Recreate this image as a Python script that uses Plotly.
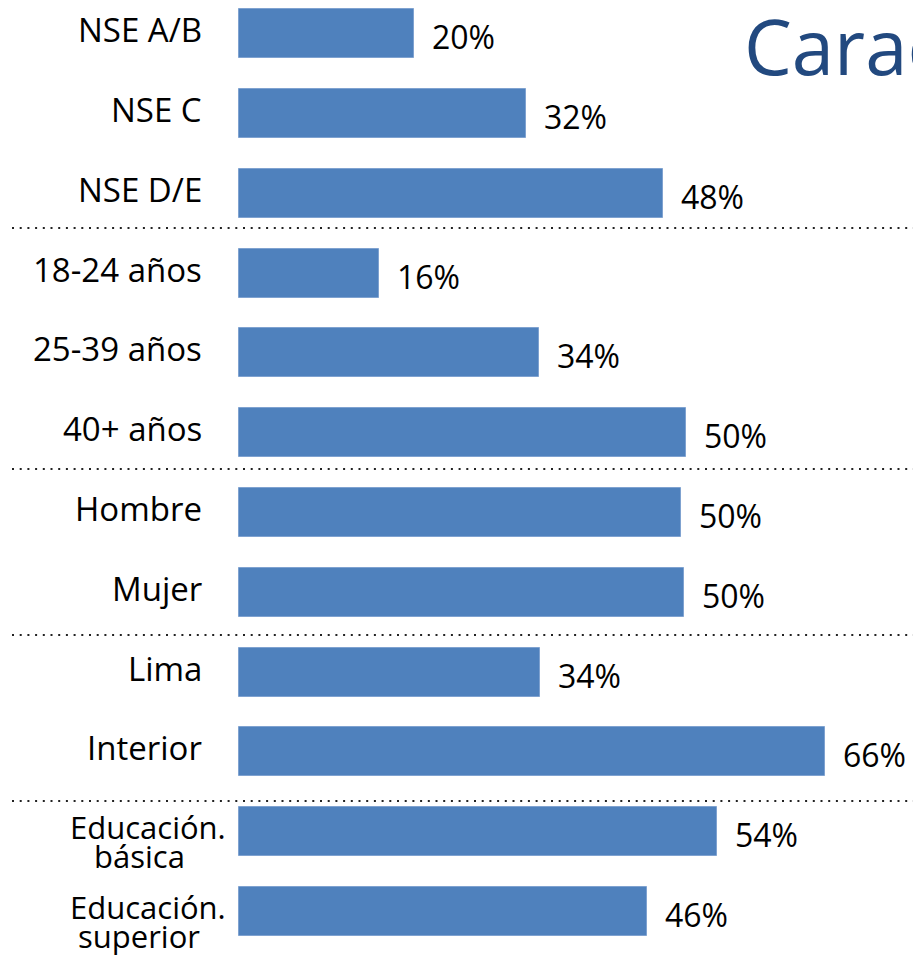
import plotly.graph_objects as go

categories = ["NSE A/B", "NSE C", "NSE D/E", "18-24 años", "25-39 años", "40+ años",
              "Hombre", "Mujer", "Lima", "Interior", "Educación. básica", "Educación. superior"]
label_lines = [["NSE A/B"], ["NSE C"], ["NSE D/E"], ["18-24 años"], ["25-39 años"], ["40+ años"],
               ["Hombre"], ["Mujer"], ["Lima"], ["Interior"], ["Educación.", "básica"],
               ["Educación.", "superior"]]
values = [19.7, 32.3, 47.8, 15.8, 33.8, 50.4, 49.8, 50.1, 33.9, 66.0, 53.9, 46.0]
value_labels = ["20%", "32%", "48%", "16%", "34%", "50%", "50%", "50%", "34%", "66%", "54%", "46%"]
separators = [2.435, 5.455, 7.535, 9.615]
title_text = "Características"

FONT = "Open Sans"
BLUE = "#4F81BD"
W, H = 913, 957

fig = go.Figure()
fig.add_trace(go.Bar(
    x=values, y=categories, orientation="h",
    marker=dict(color=BLUE, line=dict(color="#7FA2D0", width=1)),
    width=0.614, hoverinfo="skip", showlegend=False,
))

annotations = []
for cat, val, lab, lines in zip(categories, values, value_labels, label_lines):
    annotations.append(dict(
        x=val, y=cat, xref="x", yref="y", text=lab, showarrow=False,
        xanchor="left", yanchor="middle", xshift=16, yshift=-3,
        font=dict(family=FONT, size=32, color="black"),
    ))
    if len(lines) == 1:
        annotations.append(dict(
            x=204 / W, y=cat, xref="paper", yref="y", text=lines[0], showarrow=False,
            xanchor="right", yanchor="middle", yshift=4,
            font=dict(family=FONT, size=33, color="black"),
        ))
    else:
        for i, ln in enumerate(lines):
            annotations.append(dict(
                x=(148 if i == 0 else 139) / W, y=cat, xref="paper", yref="y", text=ln,
                showarrow=False, xanchor="center", yanchor="middle",
                yshift=(5 if i == 0 else -24),
                font=dict(family=FONT, size=31, color="black"),
            ))

annotations.append(dict(
    x=742 / W, y=1 - 46 / H, xref="paper", yref="paper", text=title_text,
    showarrow=False, xanchor="left", yanchor="middle",
    font=dict(family=FONT, size=76, color="#22497F"),
))

shapes = [dict(type="line", xref="paper", yref="y", x0=12 / W, x1=1, y0=s, y1=s,
               line=dict(color="#222222", width=2, dash="2px,5.7px")) for s in separators]

fig.update_layout(
    width=W, height=H, margin=dict(l=0, r=0, t=0, b=0),
    paper_bgcolor="white", plot_bgcolor="white",
    xaxis=dict(range=[-26.87, 75.91], visible=False, fixedrange=True),
    yaxis=dict(range=[11.57, -0.422], visible=False, fixedrange=True,
               categoryorder="array", categoryarray=categories),
    annotations=annotations, shapes=shapes, bargap=0,
)

fig.write_html("out.html", config={"displayModeBar": False},
               post_script="document.body.style.margin='0';document.body.style.overflow='hidden';")
